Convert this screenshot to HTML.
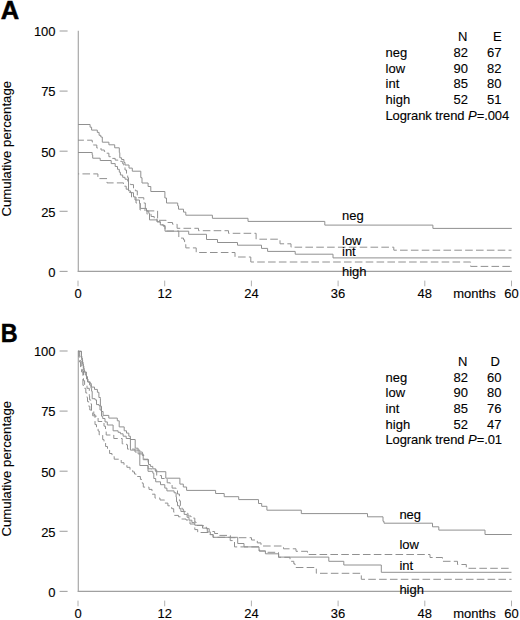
<!DOCTYPE html>
<html><head><meta charset="utf-8"><style>
html,body{margin:0;padding:0;background:#fff;}
svg{display:block;}
text{font-family:"Liberation Sans",sans-serif;font-size:13px;fill:#000;stroke:#000;stroke-width:0.12px;}
text.big{font-size:26px;font-weight:bold;stroke-width:0.5px;}
</style></head><body>
<svg width="520" height="620" viewBox="0 0 520 620">
<rect width="520" height="620" fill="#fff"/>
<path d="M78.3 30.7 V271.7" fill="none" stroke="#a8a8a8" stroke-width="1.2"/>
<path d="M77.7 271.3 H511.8" fill="none" stroke="#a0a0a0" stroke-width="1.2"/>
<line x1="59.6" y1="271.4" x2="67.6" y2="271.4" stroke="#a4a4a4" stroke-width="1.1"/>
<text x="55.6" y="276.7" text-anchor="end">0</text>
<line x1="59.6" y1="211.3" x2="67.6" y2="211.3" stroke="#a4a4a4" stroke-width="1.1"/>
<text x="55.6" y="216.6" text-anchor="end">25</text>
<line x1="59.6" y1="151.2" x2="67.6" y2="151.2" stroke="#a4a4a4" stroke-width="1.1"/>
<text x="55.6" y="156.5" text-anchor="end">50</text>
<line x1="59.6" y1="91.1" x2="67.6" y2="91.1" stroke="#a4a4a4" stroke-width="1.1"/>
<text x="55.6" y="96.4" text-anchor="end">75</text>
<line x1="59.6" y1="31.0" x2="67.6" y2="31.0" stroke="#a4a4a4" stroke-width="1.1"/>
<text x="55.6" y="36.3" text-anchor="end">100</text>
<line x1="78.0" y1="280.6" x2="78.0" y2="286.3" stroke="#b0b0b0" stroke-width="1"/>
<text x="78.0" y="298.0" text-anchor="middle">0</text>
<line x1="164.7" y1="280.6" x2="164.7" y2="286.3" stroke="#b0b0b0" stroke-width="1"/>
<text x="164.7" y="298.0" text-anchor="middle">12</text>
<line x1="251.4" y1="280.6" x2="251.4" y2="286.3" stroke="#b0b0b0" stroke-width="1"/>
<text x="251.4" y="298.0" text-anchor="middle">24</text>
<line x1="338.1" y1="280.6" x2="338.1" y2="286.3" stroke="#b0b0b0" stroke-width="1"/>
<text x="338.1" y="298.0" text-anchor="middle">36</text>
<line x1="424.8" y1="280.6" x2="424.8" y2="286.3" stroke="#b0b0b0" stroke-width="1"/>
<text x="424.8" y="298.0" text-anchor="middle">48</text>
<line x1="511.5" y1="280.6" x2="511.5" y2="286.3" stroke="#b0b0b0" stroke-width="1"/>
<text x="511.5" y="298.0" text-anchor="middle">60</text>
<text x="453.2" y="298.0">months</text>
<text transform="translate(10.9 148.7) rotate(-90)" text-anchor="middle" style="font-size:13.2px">Cumulative percentage</text>
<text x="0.8" y="18.8" class="big" style="font-size:25.5px">A</text>
<path d="M78 124.5 H90.1 V127.2 H91.6 V130.1 H97.3 V132.4 H99.1 V135.3 H100.8 V137 H102.3 V142.2 H108.9 V144.8 H114.7 V147.8 H119.3 V152.6 H119.8 V157.8 H121.6 V159.5 H123.9 V162.4 H125 V165 H129 V168.1 H132.3 V171.2 H140.8 V177.7 H142 V183 H148.1 V186.5 H150.8 V191.5 H164.9 V198 H166.5 V203 H177.7 V205.8 H178.5 V209.2 H183.5 V212.1 H185.8 V215.2 H212.4 V218.3 H248 V221.4 H324.8 V225.1 H432.9 V228.4 H511.8" fill="none" stroke="#909090" stroke-width="1.0"/>
<path d="M78 152.5 H92.2 V154.9 H92.7 V158.2 H100.2 V160.5 H111.2 V163.6 H115.2 V166.5 H117.5 V169.3 H119.3 V172.2 H120.4 V175 H122.7 V177.3 H125 V179.2 H127.7 V181.2 H128.5 V190.8 H130.4 V192.7 H133.5 V196.9 H135 V200 H139.5 V203.4 H140.3 V208.4 H146.5 V211.1 H148.8 V213.4 H149.5 V219.9 H157.2 V221.8 H160.3 V224.9 H163.4 V225.4 H165 V231.2 H188.7 V234.3 H206.5 V239.5 H217.5 V242.5 H237.5 V245.2 H261.5 V248.4 H267.6 V251.4 H295.2 V254.2 H333 V257.9 H511.5" fill="none" stroke="#909090" stroke-width="1.0"/>
<path d="M291 247.2 H393.8 V250.2 H511.5" fill="none" stroke="#909090" stroke-width="1.0" stroke-dasharray="7.6 3.25" stroke-dashoffset="7.3"/>
<path d="M78 140.2 H92.2 V142 H93.3 V145 H96.8 V148 H101 V150 H104.3 V151.5 H105.4 V153.2 H108.9 V156.7 H110.6 V158.4 H115.2 V160.1 H118.1 V161.3 H122.3 V162.3 H122.7 V163.8 H123.8 V166.9 H125 V170 H126.5 V173.8 H127.7 V177.7 H128.5 V182.3 H130.4 V184.6 H133.5 V188.5 H135.4 V190.8 H137.3 V195.4 H138.1 V197.7 H143.8 V203 H145.3 V210.9 H157.6 V220.3 H166.2 V222.5 H172.5 V224.2 H177.1 V228.3 H198.5 V230.7 H228.5 V233.3 H256.1 V239.2 H280 V243.8 H291 V247.2" fill="none" stroke="#909090" stroke-width="1.0" stroke-dasharray="7.6 3.25" stroke-dashoffset="1.7"/>
<path d="M250.8 262 H470.6 V266.4 H511.5" fill="none" stroke="#909090" stroke-width="1.0" stroke-dasharray="7.6 3.25" stroke-dashoffset="4.45"/>
<path d="M78 173.9 H97.9 V178.6 H107 V182.9 H123.5 V186.2 H126.2 V189.2 H128.8 V192.3 H131.5 V197 H136 V203 H140 V210 H147 V214.2 H151.1 V216.5 H154.2 V218.9 H157 V221.8 H160.3 V224.9 H163.4 V226.3 H165 V231 H178.8 V238.1 H183.5 V239.8 H184.6 V244.4 H185.8 V247.9 H196.2 V252.5 H235 V257 H250.8 V262" fill="none" stroke="#909090" stroke-width="1.0" stroke-dasharray="7.6 3.25" stroke-dashoffset="6.4"/>
<text x="458.0" y="41.2">N</text>
<text x="493.0" y="41.2">E</text>
<text x="385.6" y="57.0">neg</text>
<text x="453.6" y="57.0">82</text>
<text x="487.0" y="57.0">67</text>
<text x="385.6" y="72.7">low</text>
<text x="453.6" y="72.7">90</text>
<text x="487.0" y="72.7">82</text>
<text x="385.6" y="88.4">int</text>
<text x="453.6" y="88.4">85</text>
<text x="487.0" y="88.4">80</text>
<text x="385.6" y="104.1">high</text>
<text x="453.6" y="104.1">52</text>
<text x="487.0" y="104.1">51</text>
<text x="385.4" y="119.8" letter-spacing="-0.085">Logrank trend <tspan font-style="italic">P</tspan>=.004</text>
<path d="M78.3 350.7 V591.7" fill="none" stroke="#a8a8a8" stroke-width="1.2"/>
<path d="M77.7 591.3 H511.8" fill="none" stroke="#a0a0a0" stroke-width="1.2"/>
<line x1="59.6" y1="591.4" x2="67.6" y2="591.4" stroke="#a4a4a4" stroke-width="1.1"/>
<text x="55.6" y="596.7" text-anchor="end">0</text>
<line x1="59.6" y1="531.3" x2="67.6" y2="531.3" stroke="#a4a4a4" stroke-width="1.1"/>
<text x="55.6" y="536.6" text-anchor="end">25</text>
<line x1="59.6" y1="471.2" x2="67.6" y2="471.2" stroke="#a4a4a4" stroke-width="1.1"/>
<text x="55.6" y="476.5" text-anchor="end">50</text>
<line x1="59.6" y1="411.1" x2="67.6" y2="411.1" stroke="#a4a4a4" stroke-width="1.1"/>
<text x="55.6" y="416.4" text-anchor="end">75</text>
<line x1="59.6" y1="351.0" x2="67.6" y2="351.0" stroke="#a4a4a4" stroke-width="1.1"/>
<text x="55.6" y="356.3" text-anchor="end">100</text>
<line x1="78.0" y1="600.6" x2="78.0" y2="606.3" stroke="#b0b0b0" stroke-width="1"/>
<text x="78.0" y="618.0" text-anchor="middle">0</text>
<line x1="164.7" y1="600.6" x2="164.7" y2="606.3" stroke="#b0b0b0" stroke-width="1"/>
<text x="164.7" y="618.0" text-anchor="middle">12</text>
<line x1="251.4" y1="600.6" x2="251.4" y2="606.3" stroke="#b0b0b0" stroke-width="1"/>
<text x="251.4" y="618.0" text-anchor="middle">24</text>
<line x1="338.1" y1="600.6" x2="338.1" y2="606.3" stroke="#b0b0b0" stroke-width="1"/>
<text x="338.1" y="618.0" text-anchor="middle">36</text>
<line x1="424.8" y1="600.6" x2="424.8" y2="606.3" stroke="#b0b0b0" stroke-width="1"/>
<text x="424.8" y="618.0" text-anchor="middle">48</text>
<line x1="511.5" y1="600.6" x2="511.5" y2="606.3" stroke="#b0b0b0" stroke-width="1"/>
<text x="511.5" y="618.0" text-anchor="middle">60</text>
<text x="453.2" y="618.0">months</text>
<text transform="translate(10.9 468.7) rotate(-90)" text-anchor="middle" style="font-size:13.2px">Cumulative percentage</text>
<text transform="translate(0.7 341.6) scale(0.9 0.97)" class="big">B</text>
<path d="M78 351.3 H81.4 V358 H82.3 V362 H83 V366 H83.8 V370 H84.6 V372 H86.4 V376.6 H87.5 V381.9 H90.2 V383.6 H91.3 V387.1 H94.5 V389.4 H97.4 V392.3 H98.9 V397.5 H100.4 V398.7 V406.2 H101.5 V411.5 H103.1 V415.4 H108.8 V418.1 H117.3 V420.8 H119.2 V426.9 H124.2 V430.8 H126.5 V433.1 H128.8 V436.2 H130.4 V439.5 H135.2 V448.2 H138.1 V453.9 H143.2 V459.7 H148.5 V464.5 H150.4 V466.4 H152.8 V468.8 H155.7 V471.7 H165.8 V478.2 H179.9 V484.1 H183.3 V487 H186.6 V490.4 H215.6 V493.5 H224.2 V496.7 H238.7 V499.6 H258.5 V503.5 H261.7 V506.3 H266.9 V510.2 H301.3 V513.6 H367.5 V516.8 H383 V521.3 H384 V523.2 H432.5 V526.8 H438.8 V530.1 H485 V534.5 H511.8" fill="none" stroke="#909090" stroke-width="1.0"/>
<path d="M78 351.3 H81.4 V356 H81.8 V360 H82.6 V364 H83.3 V368 H84 V372 H85.3 V375 H86.5 V379 H88 V382 H89.6 V385 H91 V388.3 H91.6 V391.2 H92.2 V398.7 H95.1 V399.9 H96.5 V404.6 H99 V405.7 H100 V410 H101.5 V416.2 H102.7 V418.5 H105 V421.9 H107.3 V425 H113.1 V430.8 H118.1 V432.3 H120.4 V433.8 H123.1 V436.2 H126.2 V438.5 H130.4 V450.1 H139.8 V465.5 H148 V471.3 H152.8 V473.2 H153.8 V478.5 H155.7 V481.8 H160.5 V484.7 H164.8 V488.1 H166.9 V490.9 H174.1 V492.8 H176.1 V497.1 H176.5 V501.9 H177.5 V505.8 H179.4 V508.7 H180.9 V511.5 H184.2 V514.4 H187.1 V517.3 H189 V520.2 H191.9 V522.6 H194.8 V525.2 H202.5 V528.1 H207.3 V531.9 H210.3 V534.6 H213.1 V537.3 H237.7 V543.5 H244 V546.9 H259 V551 H265.4 V553.8 H278.7 V557.1 H328.8 V561.3 H343.8 V565 H381.3 V572.3 H511.5" fill="none" stroke="#909090" stroke-width="1.0"/>
<path d="M307.5 554.5 H430 V557.5 H442.5 V561.3 H457.5 V564.5 H466.3 V568.3 H511.5" fill="none" stroke="#909090" stroke-width="1.0" stroke-dasharray="7.6 3.25" stroke-dashoffset="9.65"/>
<path d="M78 351.3 H79.3 V356 H80.2 V361 H81.2 V366 H82.2 V371 H83.5 V376 V380.7 H84.6 V385 H87 V388.3 H89.3 V390.6 V395.8 H89.6 V399.9 H90.7 V403.9 H91.5 V410 H93.8 V414.6 H95 V416.2 H98.1 V421.5 H104 V426.2 H105.5 V430 H106.2 V435 H113.8 V438.5 H122.2 V440.5 V443.8 H126.5 V444.8 H127.5 V449.1 H135 V452 H142.3 V455.4 H144.2 V459.2 H148.1 V463.1 V468.8 H151.9 V470 H156.7 V475.6 H161.5 V478.5 H167.2 V482.8 H170.2 V484.2 H172.1 V488.1 H176.1 V489.4 H177.5 V494 H179.4 V500.8 H180.4 V505.6 H182 V509 H183.3 V511.3 H185.2 V513.3 H188 V516 H191 V518.1 H194.8 V522 H196 V525.5 H203.5 V526.7 H206.3 V528.7 H209.2 V531.5 H214.6 V533.5 H218 V535.4 H230.4 V537.7 H251.5 V540 H257.3 V542.9 H261 V546 H283.5 V548.8 H296 V551.3 H307.5 V554.5" fill="none" stroke="#909090" stroke-width="1.0" stroke-dasharray="7.6 3.25" stroke-dashoffset="0"/>
<path d="M316.3 573.3 H361.3 V579.3 H511.5" fill="none" stroke="#909090" stroke-width="1.0" stroke-dasharray="7.6 3.25" stroke-dashoffset="7.15"/>
<path d="M78 351.3 H78.8 V357 H79.6 V362 H80.6 V367 H81.6 V372 H82.9 V376.6 V385.3 H83.5 V388.3 H85.8 V392.9 H87 V397.5 H87.5 V401.6 H88.7 V406.2 H89.8 V410 H92.7 V415.8 H95 V424.6 H96.5 V427.7 H98.1 V431 H99.2 V435 H102.7 V439.6 H104 V443 H105.6 V446.5 H107.5 V450 H109.6 V453.5 H112 V456.5 H114.2 V459.2 H121.2 V462.7 H124 V465 H126.9 V467.3 H130 V469.8 H132.7 V471.9 H134.5 V474 H136.2 V476.5 H140.4 V479.4 H142.3 V483.3 H143.3 V487.1 H149 V489.4 H152 V494.2 H155 V498.1 H160 V500 H164.6 V503.1 H167.9 V505.8 H171.7 V508.7 H173.7 V512 H174.1 V515.4 H178.5 V516.8 H181.3 V519 H186 V520 H190 V524 H194.8 V529.6 H197.7 V532.5 H210 V534.6 H213.1 V537.3 H230.2 V540.6 H234.5 V546.9 H259.6 V551 H267 V552.3 H278.5 V557.3 H290 V561.3 H293.8 V563.8 H295 V567.5 H316.3 V573.3" fill="none" stroke="#909090" stroke-width="1.0" stroke-dasharray="7.6 3.25" stroke-dashoffset="0"/>
<text x="458.0" y="365.7">N</text>
<text x="490.5" y="365.7">D</text>
<text x="385.6" y="381.5">neg</text>
<text x="453.6" y="381.5">82</text>
<text x="487.0" y="381.5">60</text>
<text x="385.6" y="397.2">low</text>
<text x="453.6" y="397.2">90</text>
<text x="487.0" y="397.2">80</text>
<text x="385.6" y="412.9">int</text>
<text x="453.6" y="412.9">85</text>
<text x="487.0" y="412.9">76</text>
<text x="385.6" y="428.6">high</text>
<text x="453.6" y="428.6">52</text>
<text x="487.0" y="428.6">47</text>
<text x="385.4" y="444.3" letter-spacing="-0.085">Logrank trend <tspan font-style="italic">P</tspan>=.01</text>
<text x="342.0" y="219.9">neg</text>
<text x="342.0" y="244.5">low</text>
<text x="342.0" y="255.5">int</text>
<text x="342.0" y="275.6">high</text>
<text x="399.4" y="518.5">neg</text>
<text x="399.4" y="549.2">low</text>
<text x="399.4" y="570.2">int</text>
<text x="399.4" y="593.5">high</text>
</svg>
</body></html>
